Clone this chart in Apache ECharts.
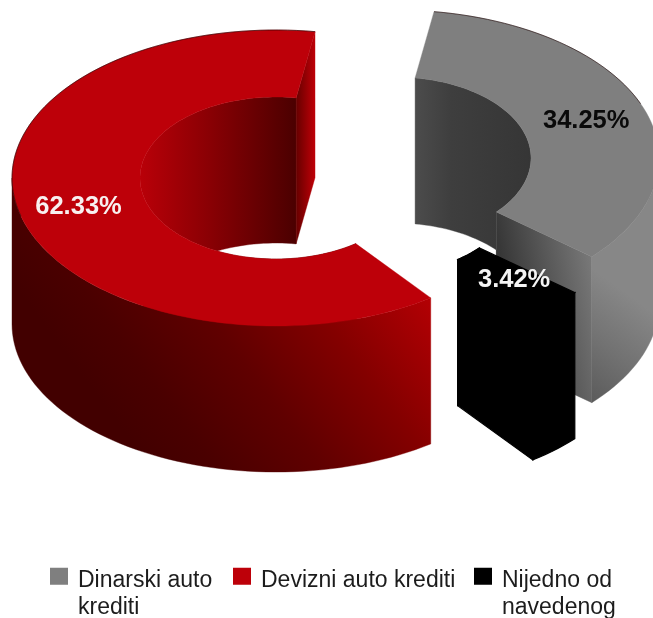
<!DOCTYPE html>
<html>
<head>
<meta charset="utf-8">
<style>html,body{margin:0;padding:0;background:#fff}#c{width:653px;height:618px;overflow:hidden}</style>
<script src="https://cdn.jsdelivr.net/npm/echarts@6/dist/echarts.min.js"></script>
</head>
<body>
<div id="c"></div>
<script>
// Data, in clockwise drawing order starting from the top
const categories = ['Dinarski auto krediti', 'Nijedno od navedenog', 'Devizni auto krediti'];
const values = [34.25, 3.42, 62.33];
const labels = ['34.25%', '3.42%', '62.33%'];
const legendLabels = ['Dinarski auto\nkrediti', 'Nijedno od\nnavedenog', 'Devizni auto krediti'];
const topColors = ['#7f7f7f', '#000000', '#bd0009'];
const labelColors = ['#0a0a0a', '#f4f4f4', '#f8f0f0'];

// Layout of the 3D ring
const startAngle = -81.5;
const centers = [[395, 158], [378, 194], [276, 178]];
const outerR = [264, 148];
const innerR = [136, 81];
const depth = 146;

const chart = echarts.init(document.getElementById('c'), null, {renderer: 'canvas'});
const rad = d => d * Math.PI / 180;
const total = values.reduce((a, b) => a + b, 0);

function arcPts(c, r, a0, a1, dy) {
  const pts = [], n = Math.max(2, Math.ceil(Math.abs(a1 - a0) / 2));
  for (let i = 0; i <= n; i++) {
    const t = rad(a0 + (a1 - a0) * i / n);
    pts.push([c[0] + r[0] * Math.cos(t), c[1] + r[1] * Math.sin(t) + (dy || 0)]);
  }
  return pts;
}
function lin(x, y, x2, y2, stops) {
  return new echarts.graphic.LinearGradient(x, y, x2, y2,
    stops.map(s => ({offset: s[0], color: s[1]})), true);
}
const poly = (points, fill, w) => ({type: 'polygon', shape: {points}, style: {fill, stroke: fill, lineWidth: w || 0.4}});

function paints(i) {
  if (i === 0) return {
    inner: lin(415, 0, 536, 0, [[0, '#4c4c4c'], [0.3, '#3e3e3e'], [1, '#353535']]),
    end: lin(498, 243, 590, 225, [[0, '#373737'], [1, '#7c7c7c']]),
    outer: lin(585, 400, 650, 310, [[0, '#5a5a5a'], [0.5, '#727272'], [1, '#878787']])
  };
  if (i === 1) return {inner: '#000', end: '#000', outer: '#000'};
  return {
    inner: lin(141, 0, 297, 0, [[0, '#b80008'], [0.45, '#880004'], [1, '#4a0000']]),
    end: lin(297, 0, 317, 0, [[0, '#6a0000'], [1, '#c80008']]),
    outer: lin(-128, 96, 133, -100, [[0, '#420000'], [0.16, '#4a0000'], [0.42, '#600000'], [0.7, '#840000'], [1, '#b40004']])
  };
}

function renderSlice(idx) {
  return function (params, api) {
    let from = startAngle;
    for (let k = 0; k < idx; k++) from += values[k] / total * 360;
    const to = from + api.value(0) / total * 360;
    const c = centers[idx], p = paints(idx), kids = [];
    const w = idx === 1 ? 1.2 : 0.4;

    // inner wall
    const iTop = arcPts(c, innerR, from, to, 0);
    const iBot = arcPts(c, innerR, from, to, depth);
    kids.push(poly(iTop.concat(iBot.slice().reverse()), p.inner, w));

    // cut face at the clockwise end of the slice
    const ci = arcPts(c, innerR, to, to, 0)[0];
    const co = arcPts(c, outerR, to, to, 0)[0];
    kids.push(poly([ci, co, [co[0], co[1] + depth], [ci[0], ci[1] + depth]], p.end, w));

    // outer wall (only the front half shows)
    const a0 = Math.max(from, 0), a1 = Math.min(to, 180);
    if (a1 > a0) {
      const oTop = arcPts(c, outerR, a0, a1, 0);
      const oBot = arcPts(c, outerR, a0, a1, depth);
      kids.push(poly(oTop.concat(oBot.slice().reverse()), p.outer, w));
    }

    // top face
    const oT = arcPts(c, outerR, from, to, 0);
    kids.push(poly(oT.concat(iTop.slice().reverse()), topColors[idx], w));

    // thin dark rim along the far outer edge
    if (idx !== 1) {
      const rimA = idx === 2 ? 165 : from, rimB = idx === 2 ? to : from + 60;
      kids.push({type: 'polyline', shape: {points: arcPts(c, outerR, rimA, rimB, 0)},
        style: {stroke: '#1a0000', lineWidth: 0.8, fill: null, opacity: 0.75}});
    }

    // value label
    const mid = rad((from + to) / 2);
    kids.push({type: 'text', z2: 20, style: {
      text: labels[idx],
      x: c[0] + 0.77 * outerR[0] * Math.cos(mid),
      y: c[1] + 0.77 * outerR[1] * Math.sin(mid) + 1.5,
      align: 'center', verticalAlign: 'middle',
      font: 'bold 25.5px "Liberation Sans", Arial, sans-serif',
      fill: labelColors[idx]
    }});
    return {type: 'group', children: kids};
  };
}

const legendX = [50, 233, 474];
const legendOrder = [0, 2, 1];
const legendLine = 27;

chart.setOption({
  animation: false,
  backgroundColor: '#fff',
  legend: legendOrder.map((i, n) => {
    const lines = legendLabels[i].split('\n').length;
    const h = lines * legendLine;
    return {
      show: true,
      orient: 'horizontal',
      left: legendX[n],
      top: 567.5,
      padding: 0,
      itemWidth: 18,
      itemHeight: h,
      itemGap: 0,
      // square in the first text line; the zero-length tail keeps the box as tall as the text
      icon: 'path://M0 0.5H18V17.5H0Z M0 ' + h + 'L0.01 ' + h + 'Z',
      data: [{name: categories[i], itemStyle: {color: topColors[i]}}],
      formatter: () => legendLabels[i],
      selectedMode: false,
      textStyle: {fontFamily: '"Liberation Sans", Arial, sans-serif', fontSize: 23, lineHeight: legendLine, color: '#1c1c1c', padding: [0, 0, 0, 5]}
    };
  }),
  series: categories.map((name, i) => ({
    type: 'custom',
    name,
    coordinateSystem: 'none',
    silent: true,
    z: i === 1 ? 3 : 2,
    itemStyle: {color: topColors[i]},
    data: [[values[i]]],
    renderItem: renderSlice(i)
  }))
});
</script>
</body>
</html>
